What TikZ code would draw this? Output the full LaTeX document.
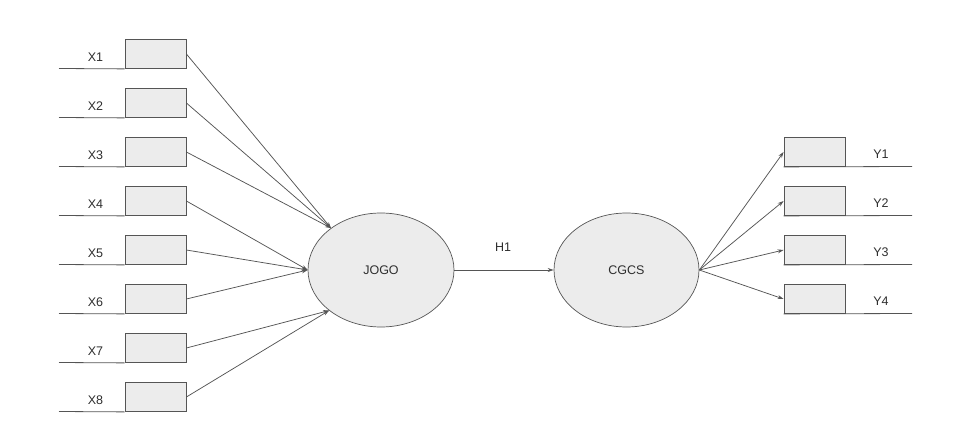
\documentclass[tikz,border=0pt]{standalone}
\usepackage{fontspec}
\setmainfont{Liberation Sans}
\usetikzlibrary{arrows.meta,shapes.geometric}
\definecolor{boxfill}{HTML}{ECECEC}
\definecolor{linec}{HTML}{555555}
\definecolor{textc}{HTML}{2E2E2E}
\begin{document}
\begin{tikzpicture}[x=1pt,y=-1pt,
  ind/.style={draw=linec,fill=boxfill,line width=0.8pt,minimum width=61pt,minimum height=29pt,inner sep=0pt},
  lat/.style={ellipse,draw=linec,fill=boxfill,line width=0.7pt,inner sep=0pt,font=\fontsize{12.5}{14}\selectfont,text=textc},
  lbl/.style={font=\fontsize{12.5}{14}\selectfont,text=textc,inner sep=0pt},
  uline/.style={draw=linec,line width=0.8pt},
  arr/.style={draw=linec,line width=0.75pt,-{Stealth[length=6pt,width=4pt]}}]
\useasboundingbox (0,0) rectangle (971,438);
% latent variables
\node[lat,minimum width=146pt,minimum height=114pt] (jogo) at (381,270) {JOGO};
\node[lat,minimum width=145pt,minimum height=114pt] (cgcs) at (626.5,270) {CGCS};
% left indicators
\foreach \i in {1,...,8}{
  \node[ind] (x\i) at (155.5,{54+49*(\i-1)}) {};
  \coordinate (xl\i) at (59,{68.5+49*(\i-1)});
  \draw[uline] (xl\i) -- (x\i.south west);
  \node[lbl] (xt\i) at (95.5,{57+49*(\i-1)}) {X\i};
}
% right indicators
\foreach \i in {1,...,4}{
  \node[ind] (y\i) at (814.5,{152+49*(\i-1)}) {};
  \coordinate (yr\i) at (912,{166.5+49*(\i-1)});
  \draw[uline] (y\i.south west) -- (yr\i);
  \node[lbl] (yt\i) at (881,{154+49*(\i-1)}) {Y\i};
}
% arrows into JOGO
\foreach \i in {1,2,3}{\draw[arr] (x\i.east) -- (jogo.140);}
\foreach \i in {4,5,6}{\draw[arr] (x\i.east) -- (jogo.west);}
\foreach \i in {7,8}{\draw[arr] (x\i.east) -- (jogo.218);}
% structural path
\draw[arr] (jogo.east) -- (cgcs.west);
\node[lbl] (h1) at (503,247) {H1};
% arrows out of CGCS
\foreach \i in {1,...,4}{\draw[arr] (cgcs.east) -- (y\i.west);}
\end{tikzpicture}
\end{document}
